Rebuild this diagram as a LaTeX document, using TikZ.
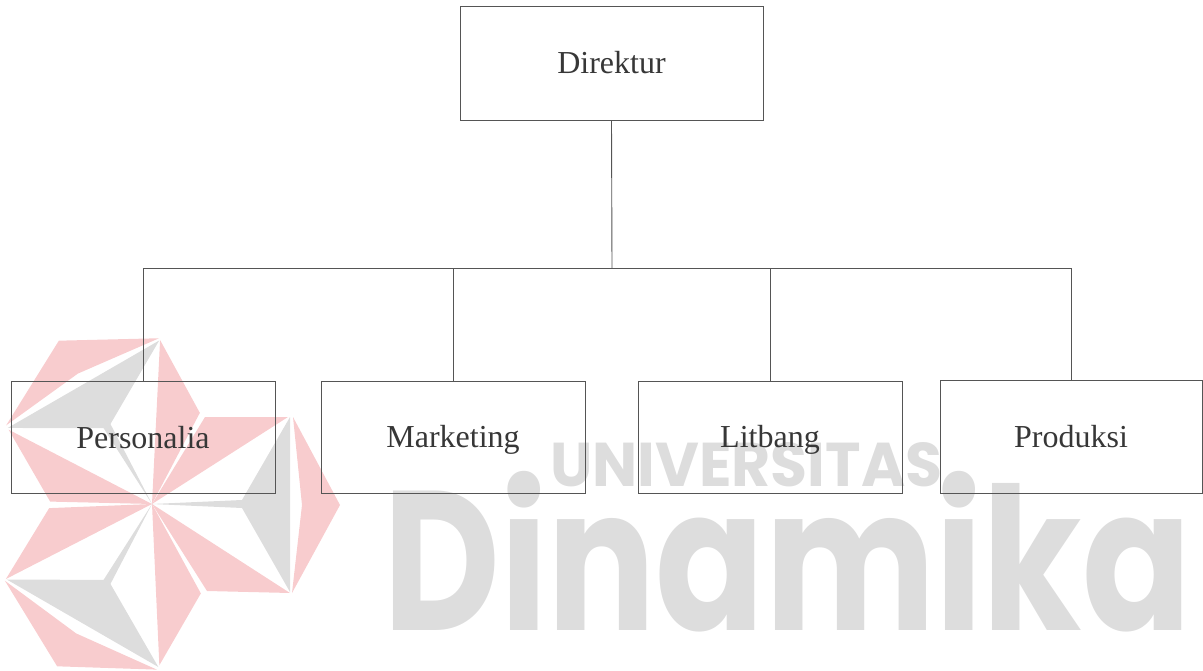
\documentclass[tikz,border=0pt]{standalone}
\usepackage{fontspec}
\setmainfont{Liberation Serif}
\newfontfamily\wmfont{Poppins}
\usepackage{graphicx}
\definecolor{wmpink}{RGB}{248,204,206}
\definecolor{wmgray}{RGB}{221,221,221}
\definecolor{linegray}{RGB}{85,85,85}
\definecolor{textgray}{RGB}{55,55,55}
\tikzset{
  orgbox/.style={draw=linegray, line width=0.9pt, inner sep=0pt, minimum width=264pt, minimum height=112pt,
    font=\fontsize{32}{36}\selectfont, text=textgray, text height=21pt, text depth=0pt},
  orgline/.style={draw=linegray, line width=0.9pt},
  pinkpart/.style={fill=wmpink, draw=none},
  graypart/.style={fill=wmgray, draw=none}
}
\newcommand{\logosector}{%
  \fill[pinkpart] (53,-87) -- (136,-87) -- (0,0) -- cycle;
  \fill[graypart] (138,-87) -- (90,-4) -- (0,0) -- (90,4) -- (138,88) -- cycle;
  \fill[pinkpart] (141,-87) -- (188,1) -- (140,89) -- (150,1) -- cycle;
  \fill[pinkpart] (0,0) -- (55,87) -- (138,89) -- cycle;
}
\begin{document}
\begin{tikzpicture}[x=1pt,y=-1pt]
\useasboundingbox (0,0) rectangle (1203,671);
% watermark logo
\foreach \ang in {0,120,240}{
  \begin{scope}[shift={(152,504)}, rotate=\ang]
    \logosector
  \end{scope}
}
% watermark text
\node[anchor=south west, inner sep=0pt, text=wmgray] (wmu) at (550,487)
  {\resizebox{392pt}{44pt}{\wmfont\bfseries UNIVERSITAS}};
\node[anchor=south west, inner sep=0pt, text=wmgray] (wmd) at (383,632)
  {\resizebox{808pt}{159pt}{\wmfont\bfseries Dinamika}};
% org chart
\node[orgbox, minimum width=303pt, minimum height=114pt] (dir) at (611.5,63) {Direktur};
\node[orgbox] (per) at (143,437.5) {Personalia};
\node[orgbox] (mar) at (453,437) {Marketing};
\node[orgbox] (lit) at (770,437) {Litbang};
\node[orgbox, minimum width=262pt, minimum height=113pt] (pro) at (1071,436.5) {Produksi};
\coordinate (bus) at (612,268);
\draw[orgline] (dir.south) -- (bus);
\foreach \n in {per,mar,lit,pro} \draw[orgline] (bus) -| (\n.north);
\end{tikzpicture}
\end{document}
